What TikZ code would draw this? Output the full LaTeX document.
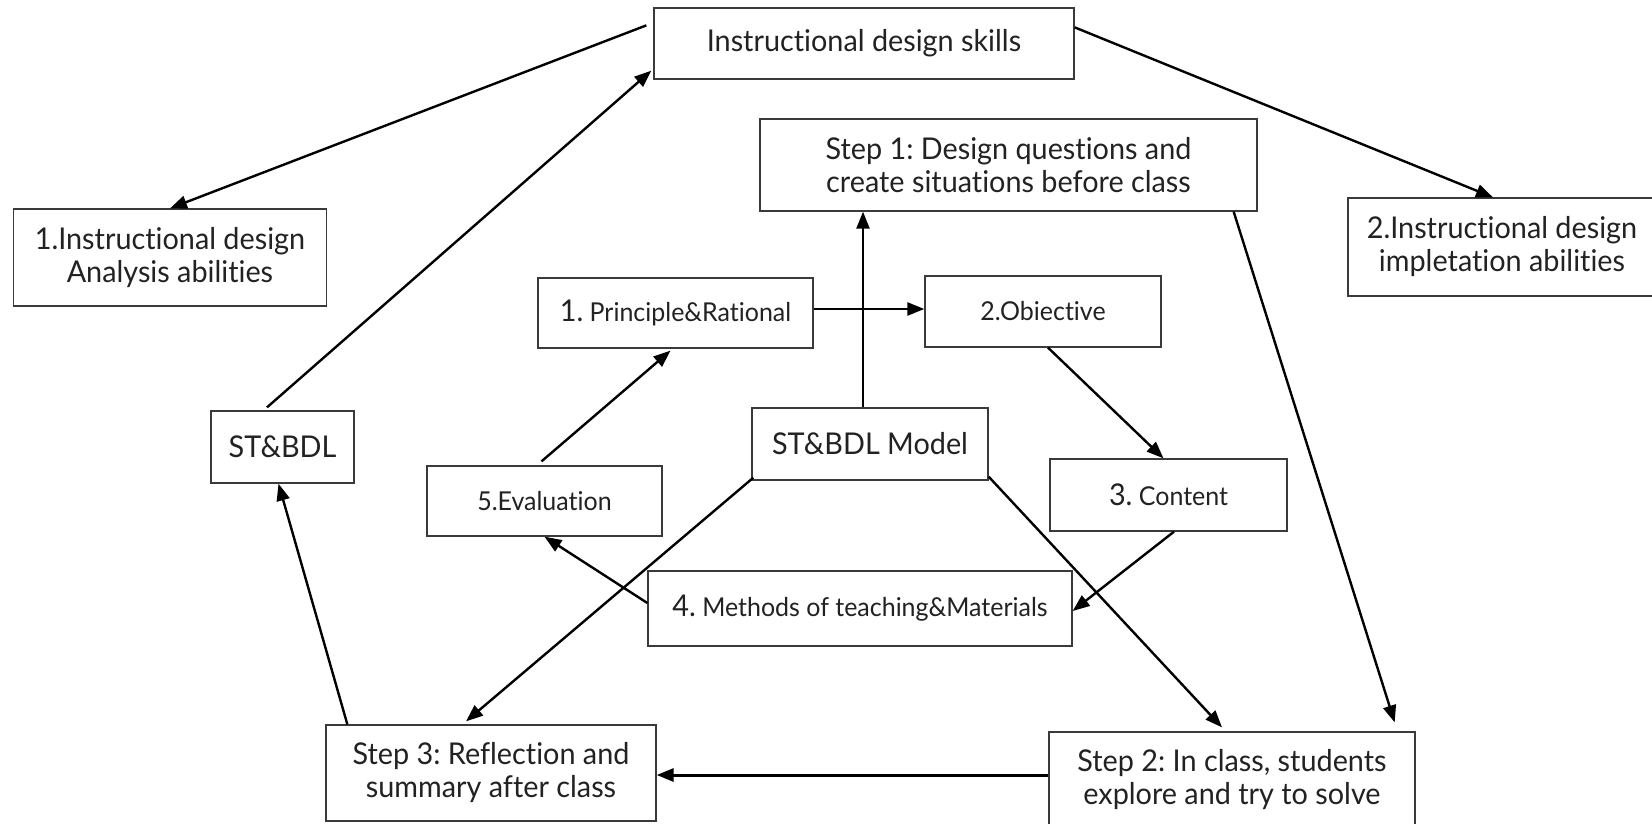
\documentclass[tikz,border=0pt]{standalone}
\usepackage{fontspec}
\setmainfont[FakeStretch=0.96,Ligatures=NoCommon]{Lato}
\usetikzlibrary{arrows.meta,calc}
\newcommand\fbig{\fontsize{30}{33}\selectfont}
\newcommand\fsmall{\fontsize{26}{30}\selectfont}
\definecolor{boxline}{HTML}{3A3A3A}
\definecolor{txt}{HTML}{222222}
\frenchspacing
\begin{document}
\begin{tikzpicture}[x=1pt,y=-1pt,
  box/.style={draw=boxline, line width=1.3pt, inner sep=0pt, align=center, text=txt, font=\fbig},
  conn/.style={draw=black, line width=2.4pt, -{Triangle[length=17pt,width=13pt]}}]
\useasboundingbox[fill=white] (0,0) rectangle (1652,823);
% nodes
\node[box, minimum width=420pt, minimum height=71pt] (skills) at (864,43.5) {Instructional design skills};
\node[box, minimum width=313pt, minimum height=97pt] (analysis) at (170,257.5) {1.Instructional design\\Analysis abilities};
\node[box, minimum width=497pt, minimum height=92pt] (step1) at (1008.5,165) {Step 1: Design questions and\\create situations before class};
\node[box, minimum width=308pt, minimum height=98pt] (impl) at (1502,247) {2.Instructional design\\impletation abilities};
\node[box, minimum width=275pt, minimum height=70pt] (principle) at (675.5,313) {1.\fsmall{} Principle\&Rational};
\node[box, minimum width=236pt, minimum height=71pt, font=\fsmall] (objective) at (1043,311.5) {2.Obiective};
\node[box, minimum width=143pt, minimum height=72pt] (stbdl) at (282.5,447) {ST\&BDL};
\node[box, minimum width=236pt, minimum height=72pt] (model) at (870,444) {ST\&BDL Model};
\node[box, minimum width=235pt, minimum height=70pt, font=\fsmall] (evaluation) at (544.5,501) {5.Evaluation};
\node[box, minimum width=237pt, minimum height=72pt] (content) at (1168.5,495) {3.\fsmall{} Content};
\node[box, minimum width=424pt, minimum height=75pt] (methods) at (860,608.5) {4.\fsmall{} Methods of teaching\&Materials};
\node[box, minimum width=330pt, minimum height=96pt] (step3) at (491,773) {Step 3: Reflection and\\summary after class};
\node[box, minimum width=366pt, minimum height=96pt] (step2) at (1232,780) {Step 2: In class, students\\explore and try to solve};
\coordinate (pe) at ([yshift=4pt]principle.east);
\coordinate (s3e) at ([yshift=-2pt]step3.east);
% connectors
\draw[conn] ([xshift=-7pt,yshift=-18pt]skills.north west) -- (analysis.north);
\draw[conn] ([xshift=-15.5pt,yshift=3pt]stbdl.north) -- ([xshift=-2pt,yshift=9pt]skills.south west);
\draw[conn] ([yshift=-20pt]skills.north east) -- ([xshift=-9pt]impl.north);
\draw[conn] ([xshift=-7pt]model.north) -- ([xshift=-7pt]model.north |- step1.south);
\draw[conn] (pe) -- (objective.west |- pe);
\draw[conn] ([xshift=5pt]objective.south) -- ([xshift=-5pt]content.north);
\draw[conn] ([xshift=5.5pt]content.south) -- ([yshift=-2.5pt]methods.east);
\draw[conn] ([yshift=5.5pt]methods.west) -- (evaluation.south);
\draw[conn] ([xshift=-3pt,yshift=4pt]evaluation.north) -- ([xshift=-5pt,yshift=-2pt]principle.south);
\draw[conn] ([xshift=2pt,yshift=3pt]model.south west) -- ([xshift=-25pt,yshift=3pt]step3.north);
\draw[conn] ([yshift=4pt]model.south east) -- ([xshift=-10pt,yshift=4pt]step2.north);
\draw[conn] ([xshift=-24pt]step1.south east) -- ([xshift=-21pt,yshift=9pt]step2.north east);
\draw[conn, line width=3pt] (step2.west |- s3e) -- (s3e);
\draw[conn] ([xshift=22pt]step3.north west) -- ([xshift=-4pt]stbdl.south);
\end{tikzpicture}
\end{document}
